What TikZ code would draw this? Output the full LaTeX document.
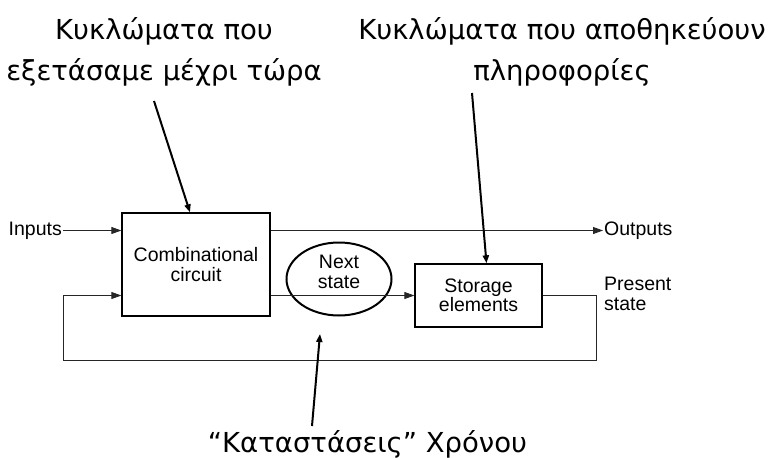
\documentclass[tikz,border=0pt]{standalone}
\usepackage{fontspec}
\setmainfont{Liberation Sans}
\newfontfamily\notefont{DejaVu Sans}
\usetikzlibrary{arrows.meta,shapes.geometric}

\tikzset{
    block/.style={draw,line width=1.3pt,align=center,inner sep=0pt,
        font=\fontsize{19.5}{19.5}\selectfont},
    wire/.style={line width=0.8pt,draw=black!85,
        -{Triangle[length=10pt,width=7pt]}},
    tag/.style={font=\fontsize{19.5}{19.5}\selectfont,align=left,inner sep=1pt},
    note/.style={font=\notefont\fontsize{27.5}{41}\selectfont,align=center,inner sep=0pt},
    pointer/.style={line width=2pt,-{Triangle[length=8pt,width=6pt]}}
}

\begin{document}
\begin{tikzpicture}[x=1pt,y=-1pt]
        \useasboundingbox (0,0) rectangle (777,458);
        %% blocks
        \node[block,minimum width=148pt,minimum height=103pt] (comb) at (196,264.5)
            {Combinational\\circuit};
        \node[block,minimum width=127pt,minimum height=63pt] (store) at (478.5,295.5)
            {Storage\\elements};
        \node[draw,ellipse,line width=2pt,minimum width=105pt,minimum height=73pt] (nextst) at (339,279) {};
        \node[tag,align=center] (nextlbl) at (339,272) {Next\\state};
        %% outer labels
        \node[tag,anchor=east] (inputs) at (63,230.5) {Inputs};
        \node[tag,anchor=west] (outputs) at (603,230.5) {Outputs};
        \node[tag,anchor=west] (present) at (603,294) {Present\\state};
        %% wires
        \draw[wire] (inputs) -- (comb.west |- inputs);
        \draw[wire] (comb.east |- outputs) -- (outputs);
        \draw[wire] (comb.east |- store.west) -- (store.west);
        \coordinate (fbR) at (596,360);
        \coordinate (fbL) at (63,360);
        \draw[wire] (store.east) -| (fbR) -- (fbL) |- (comb.west |- store.west);
        %% notes (base = last line)
        \node[note,anchor=base] (combnote) at (164,80) {Κυκλώματα που\\εξετάσαμε μέχρι τώρα};
        \node[note,anchor=base] (storenote) at (562,80) {Κυκλώματα που αποθηκεύουν\\πληροφορίες};
        \node[note,anchor=base] (timenote) at (367.5,452) {“Καταστάσεις” Χρόνου};
        \coordinate (combtail) at (154,101);
        \coordinate (storetail) at (472,93);
        \coordinate (timetail) at (312,426);
        \coordinate (timehead) at (320,334);
        \draw[pointer] (combtail) -- ([xshift=-6pt]comb.north);
        \draw[pointer] (storetail) -- ([xshift=8pt]store.north);
        \draw[pointer] (timetail) -- (timehead);
\end{tikzpicture}
\end{document}
